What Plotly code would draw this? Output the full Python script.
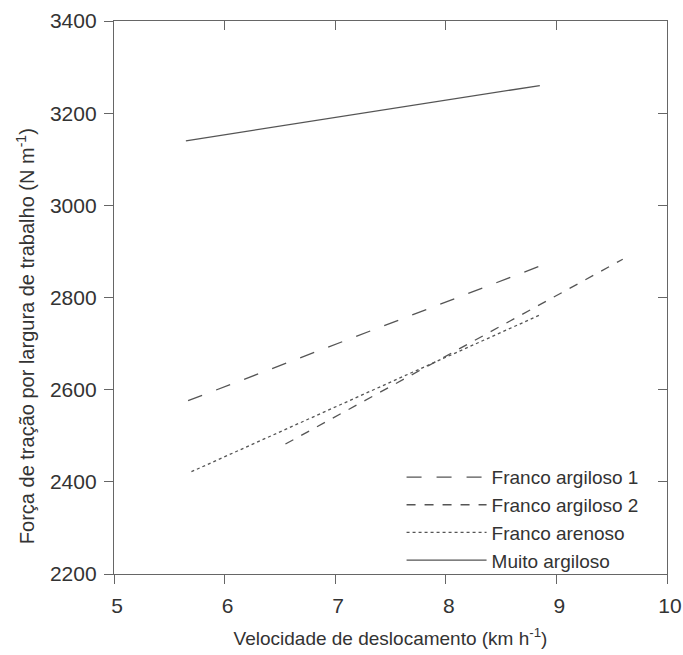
import plotly.graph_objects as go

# Line endpoints (velocity km/h, traction force N/m) for each soil texture
series_names = ["Franco argiloso 1", "Franco argiloso 2", "Franco arenoso", "Muito argiloso"]
vel_fa1 = [5.67, 8.87]
force_fa1 = [2576, 2870]
vel_fa2 = [6.55, 9.60]
force_fa2 = [2482, 2883]
vel_far = [5.70, 8.85]
force_far = [2422, 2762]
vel_ma = [5.65, 8.85]
force_ma = [3140, 3260]

x_ticks = [5, 6, 7, 8, 9, 10]
y_ticks = [2200, 2400, 2600, 2800, 3000, 3200, 3400]

line_color = "#555555"
axis_color = "#666666"
text_color = "#333333"
font_family = "Liberation Sans, Arial, sans-serif"

fig = go.Figure()
styles = [
    (vel_fa1, force_fa1, "longdash", 1.3),
    (vel_fa2, force_fa2, "dash", 1.3),
    (vel_far, force_far, "dot", 1.3),
    (vel_ma, force_ma, "solid", 1.3),
]
for name, (xs, ys, dash, w) in zip(series_names, styles):
    fig.add_trace(go.Scatter(
        x=xs, y=ys, mode="lines", name=name,
        line=dict(color=line_color, dash=dash, width=w),
    ))

# Empty trace that brings up the mirrored top/right axes with inward ticks
fig.add_trace(go.Scatter(x=[None], y=[None], xaxis="x2", yaxis="y2",
                         showlegend=False, hoverinfo="skip"))

axis_common = dict(showline=True, linecolor=axis_color, linewidth=1.3,
                   showgrid=False, zeroline=False, ticklen=9,
                   tickcolor=axis_color, tickwidth=1.3, automargin=False)

fig.update_layout(
    width=683, height=655,
    margin=dict(l=114, r=16, t=21, b=81),
    paper_bgcolor="white", plot_bgcolor="white",
    font=dict(family=font_family, color=text_color, size=19),
    xaxis=dict(range=[5, 10], tickvals=x_ticks, ticks="outside",
               tickfont=dict(size=21), ticklabelstandoff=4, ticklabelshift=3,
               ticklabeloverflow="allow",
               title=dict(text="Velocidade de deslocamento (km h<sup>-1</sup>)",
                          font=dict(size=19), standoff=15),
               **axis_common),
    yaxis=dict(range=[2200, 3400], tickvals=y_ticks, ticks="outside",
               tickfont=dict(size=21), ticklabelstandoff=3,
               ticklabeloverflow="allow",
               **axis_common),
    xaxis2=dict(range=[5, 10], tickvals=x_ticks, ticks="inside",
                overlaying="x", side="top", anchor="y", showticklabels=False,
                **axis_common),
    yaxis2=dict(range=[2200, 3400], tickvals=y_ticks, ticks="inside",
                overlaying="y", side="right", anchor="x", showticklabels=False,
                **axis_common),
    legend=dict(x=0.52, y=0.1, xanchor="left", yanchor="middle",
                bgcolor="rgba(0,0,0,0)", font=dict(size=19),
                tracegroupgap=0, itemwidth=80),
    showlegend=True,
)

# Vertical axis title, set a little below the plot's mid-height
fig.add_annotation(
    text="Força de tração por largura de trabalho (N m<sup>-1</sup>)",
    xref="paper", yref="paper", x=-0.161, y=0.43,
    xanchor="center", yanchor="middle", textangle=-90, showarrow=False,
    font=dict(size=20, color=text_color),
)

fig.write_html("out.html")
